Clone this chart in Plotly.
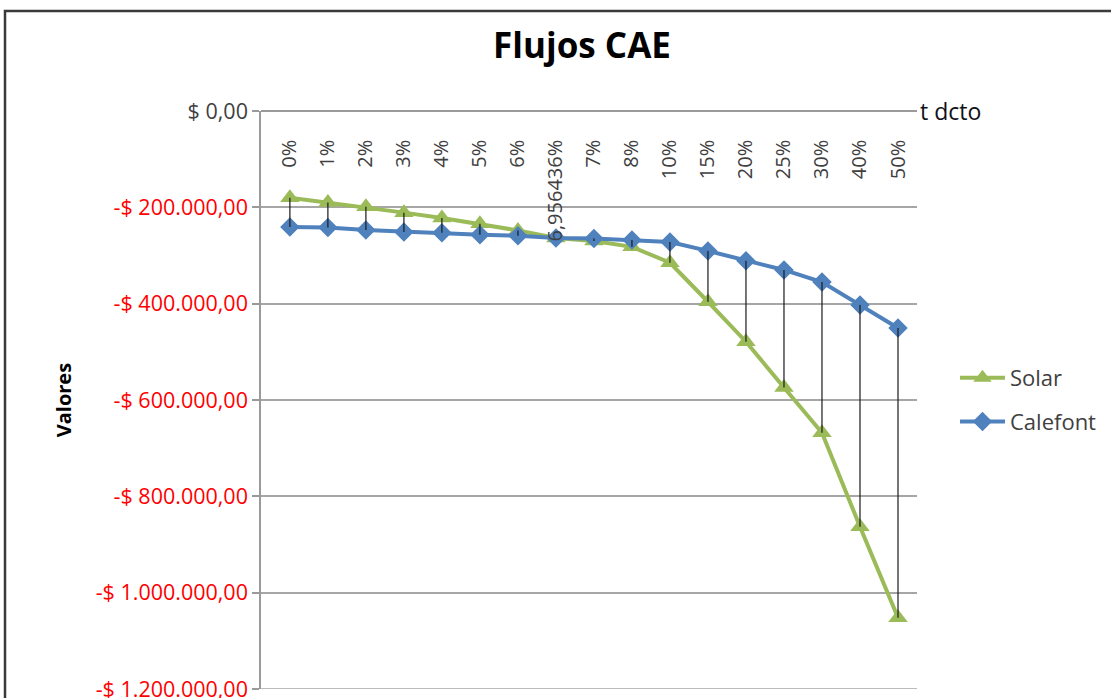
import plotly.graph_objects as go

# Discount rates (category axis) and annual equivalent cost of each option
tasas = ["0%", "1%", "2%", "3%", "4%", "5%", "6%", "6,956436%", "7%", "8%",
         "10%", "15%", "20%", "25%", "30%", "40%", "50%"]
solar = [-180000, -190000, -199000, -211000, -222000, -234000, -248000, -263500,
         -270000, -282000, -315000, -396000, -479000, -574000, -668000, -863000,
         -1052000]
calefont = [-241000, -242000, -247000, -251000, -253000, -257000, -259000, -263500,
            -264500, -268000, -272000, -290500, -311000, -330000, -355000, -403000,
            -450500]
y_ticks = [0, -200000, -400000, -600000, -800000, -1000000, -1200000]

FONT = "Open Sans"
GREEN = "#9BBB59"
BLUE = "#4F81BD"
GRID = "#a6a6a6"


def pesos(v):
    """Currency text with '.' thousands and ',' decimals; negatives in red."""
    s = f"{abs(v):,.2f}".replace(",", "X").replace(".", ",").replace("X", ".")
    if v < 0:
        return f'<span style="color:#FF0000">-$ {s}</span>'
    return f"$ {s}"


# high-low connector segments between the two series at every rate
hl_x, hl_y = [], []
for t, a, b in zip(tasas, solar, calefont):
    hl_x += [t, t, None]
    hl_y += [max(a, b), min(a, b), None]

fig = go.Figure()
fig.add_trace(go.Scatter(
    x=tasas, y=solar, name="Solar", mode="lines+markers", legendgroup="s",
    line=dict(color=GREEN, width=4),
    marker=dict(symbol="triangle-up", size=17, color=GREEN)))
fig.add_trace(go.Scatter(
    x=tasas, y=calefont, name="Calefont", mode="lines+markers", legendgroup="c",
    line=dict(color=BLUE, width=4),
    marker=dict(symbol="diamond", size=15, color=BLUE)))
fig.add_trace(go.Scatter(
    x=hl_x, y=hl_y, mode="lines", showlegend=False, hoverinfo="skip",
    line=dict(color="#1a1a1a", width=1.2)))

fig.update_layout(
    width=1111, height=698,
    margin=dict(l=261, r=194, t=111, b=9, autoexpand=False),
    paper_bgcolor="white", plot_bgcolor="white",
    font=dict(family=FONT, size=18, color="#404040"),
    title=dict(text="<b>Flujos CAE</b>", x=582 / 1111, xanchor="center",
               xref="container", y=1 - 46 / 698, yanchor="middle", yref="container",
               font=dict(family=FONT, size=35, color="black")),
    legend=dict(x=(955 - 261) / 656, y=0.5, xanchor="left", yanchor="middle",
                itemwidth=45,
                font=dict(family=FONT, size=22, color="#404040"),
                tracegroupgap=12, bgcolor="rgba(0,0,0,0)"),
    showlegend=True,
)

fig.update_xaxes(
    type="category", categoryorder="array", categoryarray=tasas,
    range=[-0.76, 16.5], anchor="free", position=1, side="bottom",
    showline=True, linecolor="#9a9a9a", linewidth=1.5, automargin=False,
    showgrid=False, zeroline=False, ticks="", tickangle=-90,
    ticklabelstandoff=20,
    tickfont=dict(family=FONT, size=20, color="#404040"),
)
fig.update_yaxes(
    range=[-1200000, 0], tickvals=y_ticks, ticktext=[pesos(v) for v in y_ticks],
    showline=True, linecolor="#9a9a9a", linewidth=1.5, automargin=False,
    ticks="outside", ticklen=7, tickcolor="#9a9a9a", tickwidth=1.5,
    showgrid=True, gridcolor=GRID, gridwidth=1.5, zeroline=False,
    ticklabeloverflow="allow",
    tickfont=dict(family=FONT, size=21.5, color="#404040"),
)

# gridline along the lower edge of the plot
fig.add_shape(type="line", xref="paper", yref="y", x0=0, x1=1,
              y0=y_ticks[-1], y1=y_ticks[-1], line=dict(color=GRID, width=1.5))

# axis captions
fig.add_annotation(text="t dcto", xref="paper", yref="paper", x=1.002, y=1,
                   xanchor="left", yanchor="middle", showarrow=False,
                   font=dict(family=FONT, size=23, color="#101018"))
fig.add_annotation(text="<b>Valores</b>", xref="paper", yref="paper", x=-0.325, y=0.5,
                   textangle=-90, showarrow=False,
                   font=dict(family=FONT, size=20, color="black"))

# chart frame
fig.add_shape(type="rect", xref="paper", yref="paper",
              x0=(5 - 261) / 656, x1=(1125 - 261) / 656,
              y0=(689 - 705) / 578, y1=(689 - 11) / 578,
              line=dict(color="#3a3a3a", width=2.5), layer="below")

fig.write_html("out.html")
